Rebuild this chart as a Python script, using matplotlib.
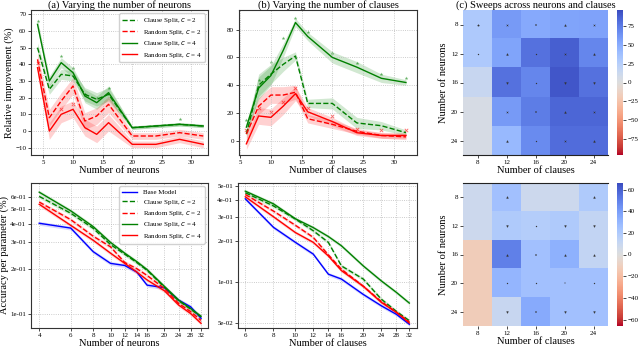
import numpy as np
import matplotlib
matplotlib.use("Agg")
import matplotlib.pyplot as plt
from matplotlib.ticker import FixedLocator, FormatStrFormatter, NullLocator

plt.rcParams['font.family'] = ['Liberation Serif', 'DejaVu Serif']

# ---- data: relative improvement vs neurons ----
neurons = [4, 6, 8, 10, 12, 14, 16, 20, 24, 28, 32]
nr_clause2 = [50, 25, 34, 33, 22, 19, 22, 2, 3, 4, 3]
nr_random2 = [43, 8, 18, 27, 6, 9, 16, -3, -3, -1, -3]
nr_clause4 = [64, 30, 41, 35, 21, 17, 23, 2, 3, 4, 3]
nr_random4 = [38, 0, 10, 13, 2, -2, 5, -8, -8, -5, -8]
nr_clause_sd = [3, 3, 3, 3, 4, 4, 4, 1, 1, 1, 1]
nr_random_sd = [4, 5, 5, 5, 5, 5, 5, 2, 2, 2, 2]
nr_best_x = [4, 8, 10, 12, 14, 16, 28]
nr_best_clause = [66, 45, 38, 22, 20, 26, 7]
nr_best_random_x = [4, 8, 10]
nr_best_random = [41, 13, 16]

# ---- data: relative improvement vs clauses ----
clauses = [6, 8, 10, 12, 14, 16, 20, 24, 28, 32]
cr_clause2 = [5, 40, 48, 55, 61, 27, 27, 13, 11, 6]
cr_random2 = [5, 25, 33, 33, 35, 16, 12, 7, 4, 3]
cr_clause4 = [10, 38, 47, 65, 85, 75, 60, 53, 45, 42]
cr_random4 = [-2, 18, 17, 25, 34, 21, 14, 6, 4, 4]
cr_clause_sd = [3, 8, 7, 5, 3, 3, 4, 4, 3, 2]
cr_random_sd = [4, 6, 6, 6, 5, 3, 3, 2, 2, 2]
cr_best_clause = [15, 44, 57, 74, 88, 78, 63, 56, 48, 45]
cr_best_random = [8, 24, 21, 28, 38, 24, 18, 9, 8, 8]

# ---- data: accuracy per parameter ----
ap_base_n = [0.403, 0.374, 0.26, 0.217, 0.21, 0.19, 0.155, 0.149, 0.123, 0.111, 0.093]
ap_clause2_n = [0.61, 0.47, 0.373, 0.29, 0.25, 0.22, 0.195, 0.15, 0.122, 0.107, 0.095]
ap_random2_n = [0.559, 0.426, 0.33, 0.28, 0.22, 0.20, 0.18, 0.147, 0.117, 0.103, 0.09]
ap_clause4_n = [0.651, 0.488, 0.383, 0.30, 0.254, 0.223, 0.197, 0.152, 0.123, 0.108, 0.096]
ap_random4_n = [0.54, 0.39, 0.31, 0.254, 0.217, 0.19, 0.168, 0.142, 0.114, 0.10, 0.086]

ap_base_c = [0.406, 0.251, 0.195, 0.16, 0.114, 0.105, 0.081, 0.067, 0.058, 0.049]
ap_clause2_c = [0.45, 0.36, 0.289, 0.237, 0.195, 0.131, 0.105, 0.075, 0.061, 0.052]
ap_random2_c = [0.437, 0.33, 0.26, 0.212, 0.158, 0.124, 0.093, 0.072, 0.060, 0.051]
ap_clause4_c = [0.462, 0.373, 0.29, 0.25, 0.215, 0.184, 0.131, 0.102, 0.084, 0.07]
ap_random4_c = [0.42, 0.30, 0.23, 0.195, 0.155, 0.121, 0.093, 0.071, 0.06, 0.05]

# ---- data: sweeps ----
grid_ticks = [8, 12, 16, 20, 24]
sweep_top = [[30, 60, 52, 55, 56],
             [30, 55, 80, 88, 70],
             [15, 80, 70, 92, 80],
             [5, 60, 75, 85, 85],
             [5, 42, 68, 82, 82]]
sweep_bottom = [[8, 25, 8, 8, 20],
                [8, 20, 18, 20, 12],
                [-12, 50, 25, 32, 12],
                [-12, 30, 25, 25, 25],
                [-12, 10, 35, 25, 25]]
marks_top = [['*', 'x', '+', '^', 'x'],
             ['.', '^', '.', 'x', '^'],
             ['', 'v', '.', 'v', 'v'],
             ['', 'x', '+', '^', 'x'],
             ['', '^', '.', 'x', '^']]
marks_bottom = [['', '^', '', '', '^'],
                ['', 'v', '.', 'v', 'v'],
                ['', '^', '+', '^', '^'],
                ['', '.', '.', '_', '.'],
                ['', 'v', '+', 'v', 'v']]

W, H = 640, 347
fig = plt.figure(figsize=(6.4, 3.47), dpi=100)


def px_axes(x0, y0, x1, y1):
    return fig.add_axes([x0 / W, 1 - y1 / H, (x1 - x0) / W, (y1 - y0) / H])


tick_fs = 5
lab_fs = 7.5
title_fs = 7.5


def style(ax):
    ax.grid(True, linestyle=':', color='#bbbbbb', linewidth=0.6)
    ax.tick_params(labelsize=tick_fs, length=2, width=0.5, pad=1.5)
    for s in ax.spines.values():
        s.set_color('#333333')
        s.set_linewidth(0.8)


# ---------------- (a) ----------------
ax = px_axes(31, 10, 208, 155)
x = np.array(neurons)
for y, sd, c, ls, lab in [(nr_clause2, nr_clause_sd, 'green', '--', r'Clause Split, $c$ = 2'),
                          (nr_random2, nr_random_sd, 'red', '--', r'Random Split, $c$ = 2'),
                          (nr_clause4, nr_clause_sd, 'green', '-', r'Clause Split, $c$ = 4'),
                          (nr_random4, nr_random_sd, 'red', '-', r'Random Split, $c$ = 4')]:
    y = np.array(y)
    sd = np.array(sd)
    ax.plot(x, y, color=c, ls=ls, lw=1.0, label=lab)
    ax.fill_between(x, y - sd, y + sd, color=c, alpha=0.18, lw=0)
ax.scatter(nr_best_x, nr_best_clause, marker='*', s=8, color='green', alpha=0.6, lw=0)
ax.scatter(nr_best_random_x, nr_best_random, marker='x', s=6, color='red', alpha=0.6, lw=0.6)
ax.set_xlim(2.9, 32.8)
ax.set_ylim(-14.4, 72.6)
ax.set_yticks(range(-10, 71, 10))
ax.set_xticks([5, 10, 15, 20, 25, 30])
ax.set_title('(a) Varying the number of neurons', fontsize=title_fs, pad=1)
ax.set_xlabel('Number of neurons', fontsize=lab_fs, labelpad=1)
ax.set_ylabel('Relative improvement (%)', fontsize=lab_fs, labelpad=1)
ax.legend(loc='upper right', fontsize=5, handlelength=2.2, borderpad=0.4,
          labelspacing=0.35, framealpha=0.9)
style(ax)

# ---------------- (b) ----------------
ax = px_axes(239, 10, 417, 155)
x = np.array(clauses)
for y, sd, c, ls in [(cr_clause2, cr_clause_sd, 'green', '--'),
                     (cr_random2, cr_random_sd, 'red', '--'),
                     (cr_clause4, cr_clause_sd, 'green', '-'),
                     (cr_random4, cr_random_sd, 'red', '-')]:
    y = np.array(y)
    sd = np.array(sd)
    ax.plot(x, y, color=c, ls=ls, lw=1.0)
    ax.fill_between(x, y - sd, y + sd, color=c, alpha=0.18, lw=0)
ax.scatter(clauses, cr_best_clause, marker='*', s=8, color='green', alpha=0.6, lw=0)
ax.scatter(clauses, cr_best_random, marker='x', s=6, color='red', alpha=0.6, lw=0.6)
ax.set_xlim(4.8, 33.8)
ax.set_ylim(-10, 94)
ax.set_yticks([0, 20, 40, 60, 80])
ax.set_xticks([5, 10, 15, 20, 25, 30])
ax.set_title('(b) Varying the number of clauses', fontsize=title_fs, pad=1)
ax.set_xlabel('Number of clauses', fontsize=lab_fs, labelpad=1)
style(ax)


# ---------------- heatmaps ----------------
def heatmap(ax, cax, data, marks, vmax, cticks):
    im = ax.imshow(np.array(data), cmap='coolwarm_r', vmin=-vmax, vmax=vmax, aspect='auto')
    for i in range(len(grid_ticks)):
        for j in range(len(grid_ticks)):
            m = marks[i][j]
            if m:
                ax.scatter(j, i, marker=m, s=1.5, color='#333333', lw=0.35)
    ax.set_xticks(range(len(grid_ticks)))
    ax.set_xticklabels(grid_ticks)
    ax.set_yticks(range(len(grid_ticks)))
    ax.set_yticklabels(grid_ticks)
    ax.set_xlim(-0.5, 4.5)
    ax.set_ylim(4.5, -0.5)
    ax.tick_params(labelsize=tick_fs, length=2, width=0.5, pad=1.5)
    for s in ax.spines.values():
        s.set_visible(False)
    ax.set_xlabel('Number of clauses', fontsize=lab_fs, labelpad=1)
    ax.set_ylabel('Number of neurons', fontsize=lab_fs, labelpad=2)
    cb = fig.colorbar(im, cax=cax, ticks=cticks)
    cb.ax.tick_params(labelsize=tick_fs, length=2, width=0.5, pad=1.5)
    cb.outline.set_visible(False)
    return im


ax = px_axes(463, 10, 608, 155)
cax = px_axes(617, 10, 623, 155)
heatmap(ax, cax, sweep_top, marks_top, 97, [-75, -50, -25, 0, 25, 50, 75])
ax.spines['bottom'].set_visible(True)
ax.spines['bottom'].set_color('#222222')
ax.set_title('(c) Sweeps across neurons and clauses', fontsize=title_fs, pad=1)

ax = px_axes(463, 183, 608, 326)
cax = px_axes(617, 183, 623, 326)
heatmap(ax, cax, sweep_bottom, marks_bottom, 66, [-60, -40, -20, 0, 20, 40, 60])
ax.spines['top'].set_visible(True)
ax.spines['top'].set_color('#222222')


# ---------------- accuracy per parameter ----------------
def acc_panel(ax, xs, series, yticks, xlim, ylim, xlabel):
    x = np.array(xs)
    for y, c, ls, lab in series:
        y = np.array(y)
        ax.plot(x, y, color=c, ls=ls, lw=1.0, label=lab)
        ax.fill_between(x, y * 0.97, y * 1.03, color=c, alpha=0.15, lw=0)
    ax.set_xscale('log')
    ax.set_yscale('log')
    ax.xaxis.set_major_locator(FixedLocator(xs))
    ax.xaxis.set_major_formatter(FormatStrFormatter('%d'))
    ax.xaxis.set_minor_locator(NullLocator())
    ax.yaxis.set_major_locator(FixedLocator(yticks))
    ax.yaxis.set_major_formatter(FormatStrFormatter('%.0e'))
    ax.yaxis.set_minor_locator(NullLocator())
    ax.set_xlim(*xlim)
    ax.set_ylim(*ylim)
    ax.set_xlabel(xlabel, fontsize=lab_fs, labelpad=1)
    style(ax)


ax = px_axes(31, 183, 208, 328)
acc_panel(ax, neurons,
          [(ap_base_n, 'blue', '-', 'Base Model'),
           (ap_clause2_n, 'green', '--', r'Clause Split, $c$ = 2'),
           (ap_random2_n, 'red', '--', r'Random Split, $c$ = 2'),
           (ap_clause4_n, 'green', '-', r'Clause Split, $c$ = 4'),
           (ap_random4_n, 'red', '-', r'Random Split, $c$ = 4')],
          [0.1, 0.2, 0.3, 0.4, 0.5, 0.6], (3.6, 35), (0.08, 0.75), 'Number of neurons')
ax.set_ylabel('Accuracy per parameter (%)', fontsize=lab_fs, labelpad=1)
ax.legend(loc='upper right', fontsize=5, handlelength=2.2, borderpad=0.4,
          labelspacing=0.35, framealpha=0.9)

ax = px_axes(238, 183, 417, 328)
acc_panel(ax, clauses,
          [(ap_base_c, 'blue', '-', 'Base Model'),
           (ap_clause2_c, 'green', '--', r'Clause Split, $c$ = 2'),
           (ap_random2_c, 'red', '--', r'Random Split, $c$ = 2'),
           (ap_clause4_c, 'green', '-', r'Clause Split, $c$ = 4'),
           (ap_random4_c, 'red', '-', r'Random Split, $c$ = 4')],
          [0.05, 0.1, 0.2, 0.3, 0.4, 0.5], (5.57, 34.6), (0.046, 0.53), 'Number of clauses')

fig.savefig('out.png', dpi=100)
